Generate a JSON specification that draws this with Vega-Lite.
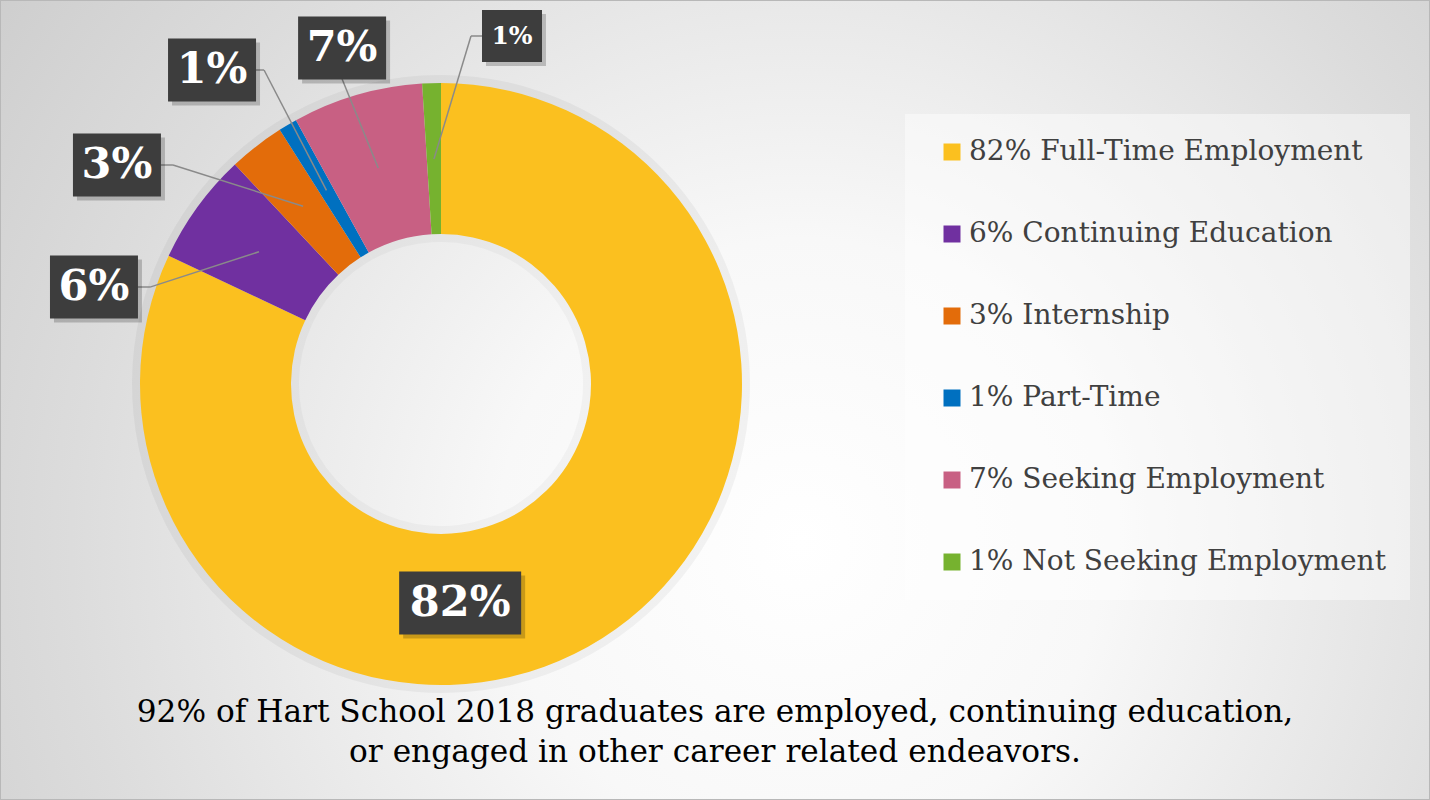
{
  "$schema": "https://vega.github.io/schema/vega-lite/v6.json",
  "width": 1430,
  "height": 800,
  "padding": 0,
  "autosize": {"type": "none"},
  "title": {
    "text": ["92%  of Hart School 2018 graduates are employed, continuing education,", "or engaged  in other career related endeavors."],
    "orient": "bottom",
    "anchor": "middle",
    "baseline": "alphabetic",
    "offset": -78,
    "font": "DejaVu Serif",
    "fontSize": 31.2,
    "fontWeight": "normal",
    "color": "#000000",
    "lineHeight": 40
  },
  "data": {
    "values": [
      {"idx": 1, "category": "82% Full-Time Employment", "pct": 82, "text": "82%"},
      {"idx": 2, "category": "6% Continuing Education", "pct": 6, "text": "6%"},
      {"idx": 3, "category": "3% Internship", "pct": 3, "text": "3%"},
      {"idx": 4, "category": "1% Part-Time", "pct": 1, "text": "1%"},
      {"idx": 5, "category": "7% Seeking Employment", "pct": 7, "text": "7%"},
      {"idx": 6, "category": "1% Not Seeking Employment", "pct": 1, "text": "1%"}
    ]
  },
  "transform": [
    {"window": [{"op": "sum", "field": "pct", "as": "cumEnd"}], "sort": [{"field": "idx", "order": "ascending"}], "frame": [null, 0]},
    {"calculate": "(datum.cumEnd - datum.pct / 2) / 100 * 2 * PI", "as": "midA"},
    {"calculate": "225 * sin(datum.midA)", "as": "sx"},
    {"calculate": "225 * cos(datum.midA)", "as": "sy"},
    {"calculate": "[175.0, 285.6, 304.05, 323.9, 343.6, 11.53][datum.idx - 1] * PI / 180", "as": "labA"},
    {"calculate": "[219.8, 360.3, 391.1, 388.6, 350.3, 355.2][datum.idx - 1]", "as": "labR"},
    {"calculate": "datum.labR * sin(datum.labA)", "as": "lx"},
    {"calculate": "datum.labR * cos(datum.labA)", "as": "ly"},
    {"calculate": "datum.lx + [0, 56, 56, 52, 0, -41][datum.idx - 1]", "as": "ex"},
    {"calculate": "datum.ly + [0, 0, 0, 0, -31, 0][datum.idx - 1]", "as": "ey"},
    {"calculate": "datum.lx + 4", "as": "shx"},
    {"calculate": "datum.ly - 4", "as": "shy"},
    {"calculate": "datum.idx == 1 ? 'M-1,-0.516H1V0.516H-1Z' : datum.idx == 6 ? 'M-1,-0.867H1V0.867H-1Z' : 'M-1,-0.716H1V0.716H-1Z'", "as": "boxShape"},
    {"calculate": "datum.idx == 1 ? 14884 : datum.idx == 6 ? 3600 : 7744", "as": "boxSize"},
    {"calculate": "datum.idx == 6 ? 25 : 43", "as": "fs"}
  ],
  "layer": [
    {
      "mark": {"type": "arc", "innerRadius": 296, "outerRadius": 309, "fill": "#000000", "opacity": 0.045},
      "encoding": {
        "theta": {"field": "pct", "type": "quantitative", "stack": true},
        "order": {"field": "idx", "type": "quantitative"},
        "x": {"datum": 0, "type": "quantitative", "scale": {"domain": [-441, 989], "nice": false, "zero": false}, "axis": null},
        "y": {"datum": 0, "type": "quantitative", "scale": {"domain": [-416, 384], "nice": false, "zero": false}, "axis": null}
      }
    },
    {
      "mark": {"type": "arc", "innerRadius": 142, "outerRadius": 155, "fill": "#000000", "opacity": 0.03},
      "encoding": {
        "theta": {"field": "pct", "type": "quantitative", "stack": true},
        "order": {"field": "idx", "type": "quantitative"},
        "x": {"datum": 0, "type": "quantitative", "scale": {"domain": [-441, 989], "nice": false, "zero": false}, "axis": null},
        "y": {"datum": 0, "type": "quantitative", "scale": {"domain": [-416, 384], "nice": false, "zero": false}, "axis": null}
      }
    },
    {
      "mark": {"type": "arc", "innerRadius": 150, "outerRadius": 301},
      "encoding": {
        "theta": {"field": "pct", "type": "quantitative", "stack": true},
        "order": {"field": "idx", "type": "quantitative"},
        "x": {"datum": 0, "type": "quantitative", "scale": {"domain": [-441, 989], "nice": false, "zero": false}, "axis": null},
        "y": {"datum": 0, "type": "quantitative", "scale": {"domain": [-416, 384], "nice": false, "zero": false}, "axis": null},
        "color": {
          "field": "category",
          "type": "nominal",
          "sort": null,
          "scale": {
            "domain": ["82% Full-Time Employment", "6% Continuing Education", "3% Internship", "1% Part-Time", "7% Seeking Employment", "1% Not Seeking Employment"],
            "range": ["#FBC01F", "#7030A0", "#E36C0A", "#0070C0", "#C86083", "#76B22F"]
          },
          "legend": {
            "orient": "none",
            "legendX": 905,
            "legendY": 114,
            "title": null,
            "fillColor": "rgba(255,255,255,0.45)",
            "padding": 24,
            "symbolOffset": 9,
            "symbolType": "square",
            "symbolSize": 289,
            "symbolStrokeWidth": 0,
            "labelFont": "DejaVu Serif",
            "labelFontSize": 28,
            "labelColor": "#404040",
            "labelOffset": 3,
            "rowPadding": 54,
            "labelLimit": 700
          }
        }
      }
    },
    {
      "transform": [{"filter": "datum.idx != 1"}],
      "mark": {"type": "rule", "color": "#8a8a8a", "strokeWidth": 1.5},
      "encoding": {
        "x": {"field": "sx", "type": "quantitative", "scale": {"domain": [-441, 989], "nice": false, "zero": false}, "axis": null},
        "y": {"field": "sy", "type": "quantitative", "scale": {"domain": [-416, 384], "nice": false, "zero": false}, "axis": null},
        "x2": {"field": "ex"},
        "y2": {"field": "ey"}
      }
    },
    {
      "transform": [{"filter": "datum.idx != 1"}],
      "mark": {"type": "rule", "color": "#8a8a8a", "strokeWidth": 1.5},
      "encoding": {
        "x": {"field": "ex", "type": "quantitative", "scale": {"domain": [-441, 989], "nice": false, "zero": false}, "axis": null},
        "y": {"field": "ey", "type": "quantitative", "scale": {"domain": [-416, 384], "nice": false, "zero": false}, "axis": null},
        "x2": {"field": "lx"},
        "y2": {"field": "ly"}
      }
    },
    {
      "mark": {"type": "point", "filled": true, "color": "#000000", "opacity": 0.2, "strokeWidth": 0},
      "encoding": {
        "x": {"field": "shx", "type": "quantitative", "scale": {"domain": [-441, 989], "nice": false, "zero": false}, "axis": null},
        "y": {"field": "shy", "type": "quantitative", "scale": {"domain": [-416, 384], "nice": false, "zero": false}, "axis": null},
        "shape": {"field": "boxShape", "type": "nominal", "scale": null},
        "size": {"field": "boxSize", "type": "quantitative", "scale": null}
      }
    },
    {
      "mark": {"type": "point", "filled": true, "color": "#3d3d3d", "opacity": 1, "strokeWidth": 0},
      "encoding": {
        "x": {"field": "lx", "type": "quantitative", "scale": {"domain": [-441, 989], "nice": false, "zero": false}, "axis": null},
        "y": {"field": "ly", "type": "quantitative", "scale": {"domain": [-416, 384], "nice": false, "zero": false}, "axis": null},
        "shape": {"field": "boxShape", "type": "nominal", "scale": null},
        "size": {"field": "boxSize", "type": "quantitative", "scale": null}
      }
    },
    {
      "mark": {"type": "text", "color": "#ffffff", "font": "DejaVu Serif", "fontWeight": "bold", "align": "center", "baseline": "middle"},
      "encoding": {
        "x": {"field": "lx", "type": "quantitative", "scale": {"domain": [-441, 989], "nice": false, "zero": false}, "axis": null},
        "y": {"field": "ly", "type": "quantitative", "scale": {"domain": [-416, 384], "nice": false, "zero": false}, "axis": null},
        "text": {"field": "text", "type": "nominal"},
        "size": {"field": "fs", "type": "quantitative", "scale": null}
      }
    }
  ],
  "config": {
    "view": {
      "stroke": "#b8b8b8",
      "strokeWidth": 2,
      "fill": {
        "gradient": "radial",
        "x1": 0.56, "y1": 0.6, "r1": 0,
        "x2": 0.56, "y2": 0.6, "r2": 0.85,
        "stops": [
          {"offset": 0, "color": "#ffffff"},
          {"offset": 0.25, "color": "#f8f8f8"},
          {"offset": 0.6, "color": "#dcdcdc"},
          {"offset": 1, "color": "#c0c0c0"}
        ]
      }
    }
  }
}
